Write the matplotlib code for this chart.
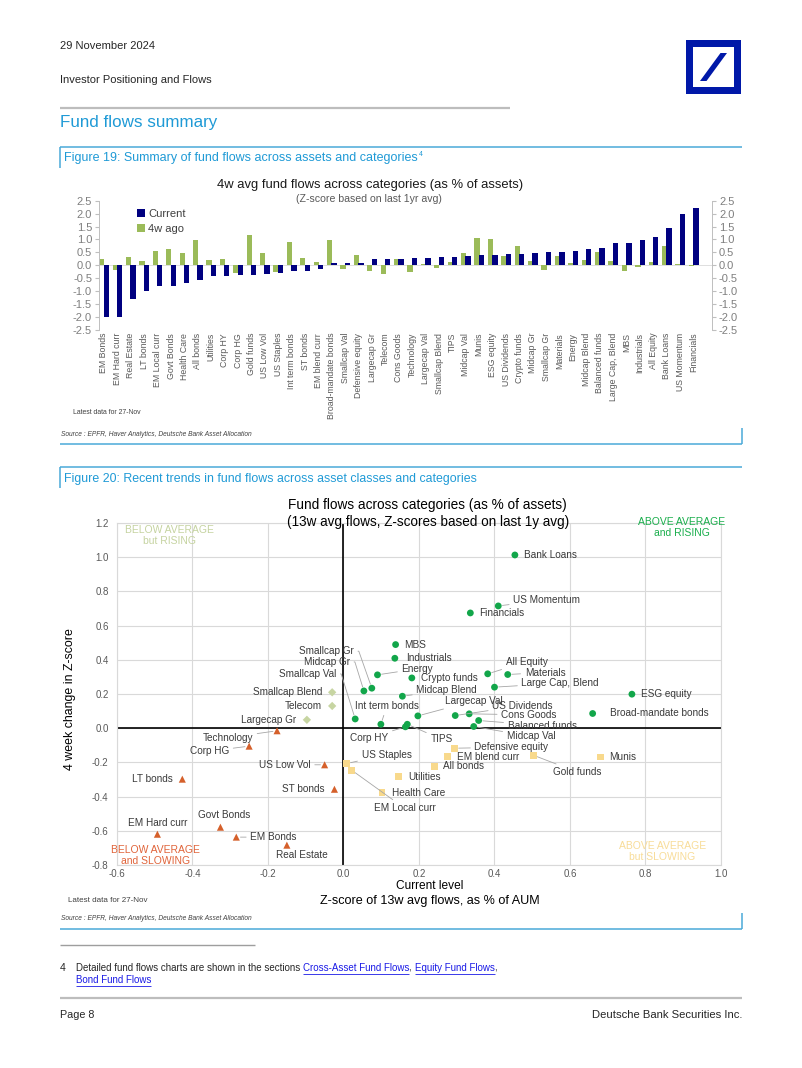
import matplotlib
matplotlib.use("Agg")
import numpy as np
import matplotlib.pyplot as plt
from matplotlib import font_manager
from matplotlib.patches import Rectangle, Polygon
from matplotlib.lines import Line2D

# ------------------------------------------------------------------ data
bar_categories = ["EM Bonds", "EM Hard curr", "Real Estate", "LT bonds", "EM Local curr",
                  "Govt Bonds", "Health Care", "All bonds", "Utilities", "Corp HY", "Corp HG",
                  "Gold funds", "US Low Vol", "US Staples", "Int term bonds", "ST bonds",
                  "EM blend curr", "Broad-mandate bonds", "Smallcap Val", "Defensive equity",
                  "Largecap Gr", "Telecom", "Cons Goods", "Technology", "Largecap Val",
                  "Smallcap Blend", "TIPS", "Midcap Val", "Munis", "ESG equity", "US Dividends",
                  "Crypto funds", "Midcap Gr", "Smallcap Gr", "Materials", "Energy",
                  "Midcap Blend", "Balanced funds", "Large Cap, Blend", "MBS", "Industrials",
                  "All Equity", "Bank Loans", "US Momentum", "Financials"]
current = [-2.0, -2.0, -1.29, -0.99, -0.81, -0.81, -0.68, -0.55, -0.43, -0.40, -0.39,
           -0.39, -0.34, -0.30, -0.23, -0.21, -0.15, 0.09, 0.09, 0.10, 0.23, 0.26,
           0.26, 0.28, 0.28, 0.32, 0.33, 0.35, 0.39, 0.41, 0.44, 0.44, 0.49, 0.53, 0.53,
           0.54, 0.63, 0.66, 0.85, 0.85, 0.99, 1.10, 1.44, 1.97, 2.20]
four_weeks_ago = [0.23, -0.19, 0.31, 0.18, 0.55, 0.62, 0.46, 0.98, 0.21, 0.23, -0.30,
                  1.16, 0.48, -0.26, 0.90, 0.27, 0.13, 0.98, -0.13, 0.41, -0.22, -0.33,
                  0.23, -0.27, 0.06, -0.09, 0.12, 0.48, 1.07, 1.00, 0.37, 0.76, 0.17, -0.17,
                  0.35, 0.08, 0.19, 0.53, 0.17, -0.23, -0.06, 0.13, 0.76, 0.06, -0.04]
bar_yticks = [-2.5, -2.0, -1.5, -1.0, -0.5, 0.0, 0.5, 1.0, 1.5, 2.0, 2.5]

# scatter: (current level z-score, 4 week change in z-score)
rising_names = ["Bank Loans", "US Momentum", "Financials", "MBS", "Industrials", "Energy",
                "Crypto funds", "All Equity", "Materials", "Large Cap, Blend", "ESG equity",
                "Broad-mandate bonds", "Midcap Blend", "Smallcap Gr", "Midcap Gr",
                "Smallcap Val", "Int term bonds", "Largecap Val", "US Dividends", "Cons Goods",
                "Balanced funds", "Midcap Val", "TIPS", "Corp HY"]
rising_x = [0.454, 0.410, 0.336, 0.138, 0.136, 0.090, 0.181, 0.382, 0.435, 0.400, 0.764,
            0.660, 0.156, 0.075, 0.054, 0.031, 0.099, 0.197, 0.296, 0.333, 0.358, 0.345,
            0.169, 0.164]
rising_y = [1.013, 0.715, 0.674, 0.489, 0.409, 0.312, 0.294, 0.318, 0.314, 0.240, 0.199,
            0.086, 0.187, 0.234, 0.218, 0.054, 0.023, 0.072, 0.074, 0.084, 0.045, 0.010,
            0.023, 0.008]

below_rising_names = ["Smallcap Blend", "Telecom", "Largecap Gr"]
below_rising_x = [-0.030, -0.030, -0.097]
below_rising_y = [0.210, 0.130, 0.049]

slowing_names = ["Technology", "Corp HG", "US Low Vol", "LT bonds", "ST bonds", "Govt Bonds",
                 "EM Hard curr", "EM Bonds", "Real Estate"]
slowing_x = [-0.176, -0.250, -0.050, -0.427, -0.024, -0.326, -0.493, -0.284, -0.150]
slowing_y = [-0.015, -0.105, -0.214, -0.298, -0.357, -0.579, -0.620, -0.637, -0.684]

above_slowing_names = ["US Staples", "EM Local curr", "Defensive equity", "EM blend curr",
                       "Gold funds", "Munis", "All bonds", "Utilities", "Health Care"]
above_slowing_x = [0.008, 0.022, 0.294, 0.275, 0.503, 0.681, 0.240, 0.145, 0.102]
above_slowing_y = [-0.207, -0.246, -0.117, -0.166, -0.158, -0.168, -0.222, -0.283, -0.378]

scatter_xticks = [-0.6, -0.4, -0.2, 0.0, 0.2, 0.4, 0.6, 0.8, 1.0]
scatter_yticks = [-0.8, -0.6, -0.4, -0.2, 0.0, 0.2, 0.4, 0.6, 0.8, 1.0, 1.2]

# label placement (pixel offsets from the point, alignment, leader line style)
label_layout = {
    "Bank Loans": (9, 0, "left", None), "US Momentum": (15, 6, "left", "s"),
    "Financials": (9, 0, "left", None), "MBS": (9, 0, "left", None),
    "Industrials": (11, 0, "left", None), "Energy": (24, 6, "left", "s"),
    "Crypto funds": (9, 0, "left", None), "All Equity": (18, 12, "left", "s"),
    "Materials": (17, 2, "left", "s"), "Large Cap, Blend": (27, 4, "left", "s"),
    "ESG equity": (9, 0, "left", None), "Broad-mandate bonds": (17, 0, "left", None),
    "Midcap Blend": (14, 6, "left", "s"), "Smallcap Gr": (-18, 37, "right", "b"),
    "Midcap Gr": (-14, 29, "right", "b"), "Smallcap Val": (-19, 45, "right", "b"),
    "Int term bonds": (-26, 18, "left", "s"), "Largecap Val": (27, 15, "left", "s"),
    "US Dividends": (37, 10, "left", "s"), "Cons Goods": (32, -1, "left", "s"),
    "Balanced funds": (29, -5, "left", "s"), "Midcap Val": (33, -10, "left", "s"),
    "TIPS": (23, -15, "left", "s"), "Corp HY": (-17, -11, "right", "s"),
    "Smallcap Blend": (-10, 0, "right", None), "Telecom": (-10, 0, "right", None),
    "Largecap Gr": (-11, 0, "right", None),
    "Technology": (-24, -7, "right", "s"), "Corp HG": (-20, -5, "right", "s"),
    "US Low Vol": (-14, 0, "right", "s"), "LT bonds": (-10, 0, "right", None),
    "ST bonds": (-10, 0, "right", None), "Govt Bonds": (4, 12, "center", None),
    "EM Hard curr": (0, 11, "center", None), "EM Bonds": (14, 0, "left", "s"),
    "Real Estate": (15, -10, "center", None),
    "US Staples": (15, 9, "left", "s"), "EM Local curr": (22, -38, "left", "s"),
    "Defensive equity": (20, 1, "left", "s"), "EM blend curr": (10, 0, "left", None),
    "Gold funds": (20, -17, "left", "s"), "Munis": (9, 0, "left", None),
    "All bonds": (9, 0, "left", None), "Utilities": (10, 0, "left", None),
    "Health Care": (10, 0, "left", None),
}

# ------------------------------------------------------------------ fonts / page
names_avail = {f.name for f in font_manager.fontManager.ttflist}
REG = ["Liberation Sans", "DejaVu Sans"]
NARROW = (["Liberation Sans Narrow"] if "Liberation Sans Narrow" in names_avail else []) + REG
plt.rcParams["font.family"] = REG

W, H = 802, 1068
fig = plt.figure(figsize=(W / 100, H / 100), dpi=100)
fig.patch.set_facecolor("white")
renderer = fig.canvas.get_renderer()

BLUE_T = "#1f9ad6"
BOX = "#4aa9d8"
DARK = "#262626"


def fx(x):
    return x / W


def fy(y):
    return 1 - y / H


def fit_text(x, y, s, target_w, family=NARROW, rotation=0, **kw):
    t = fig.text(fx(x), fy(y), s, fontsize=10, family=family, **kw)
    w = t.get_window_extent(renderer).width
    t.set_fontsize(10 * target_w / w)
    if rotation:
        t.set_rotation(rotation)
    return t


def hline(x0, x1, y, color, lw):
    fig.add_artist(Line2D([fx(x0), fx(x1)], [fy(y), fy(y)], transform=fig.transFigure,
                          color=color, lw=lw, solid_capstyle="butt"))


def vline(x, y0, y1, color, lw):
    fig.add_artist(Line2D([fx(x), fx(x)], [fy(y0), fy(y1)], transform=fig.transFigure,
                          color=color, lw=lw, solid_capstyle="butt"))


# header
fit_text(60, 46, "29 November 2024", 95, color=DARK, va="center")
fit_text(60, 80, "Investor Positioning and Flows", 152, color=DARK, va="center")
hline(60, 510, 108, "#bdbdbd", 1.6)
fit_text(60, 123, "Fund flows summary", 157, color=BLUE_T, va="center")

# DB logo
fig.add_artist(Rectangle((fx(686), fy(94)), 55 / W, 54 / H, transform=fig.transFigure,
                         facecolor="#0018a8", edgecolor="none"))
fig.add_artist(Rectangle((fx(693), fy(87)), 41 / W, 40 / H, transform=fig.transFigure,
                         facecolor="white", edgecolor="none"))
slash = [(700, 81), (706.5, 81), (727, 53), (720.5, 53)]
fig.add_artist(Polygon([(fx(a), fy(b)) for a, b in slash], closed=True,
                       transform=fig.transFigure, facecolor="#0018a8", edgecolor="none"))

# Figure 19 frame
hline(60, 742, 147, BOX, 1.1)
vline(60, 147, 168, BOX, 1.1)
fit_text(64, 158, "Figure 19: Summary of fund flows across assets and categories", 354,
         color=BLUE_T, va="center")
fig.text(fx(419), fy(154), "4", fontsize=5, color=BLUE_T, va="center", family=NARROW)
hline(60, 742, 444, BOX, 1.1)
vline(742, 428, 444, BOX, 1.1)

fit_text(370, 185, "4w avg fund flows across categories (as % of assets)", 307,
         color="#1a1a1a", ha="center", va="center")
fit_text(369, 199, "(Z-score based on last 1yr avg)", 146, family=REG,
         color="#595959", ha="center", va="center")
fit_text(73, 413, "Latest data for 27-Nov", 69, family=REG, color="#404040", va="center")
fit_text(61, 435, "Source : EPFR, Haver Analytics, Deutsche Bank Asset Allocation", 192,
         family=REG, color="#404040", va="center", style="italic")

# ------------------------------------------------------------------ bar chart
axb = fig.add_axes([fx(99), fy(330), 613 / W, 129.3 / H])
xpos = np.arange(len(bar_categories))
axb.bar(xpos - 0.165, four_weeks_ago, 0.40, color="#9bbb59", label="4w ago", zorder=2)
axb.bar(xpos + 0.165, current, 0.40, color="#000080", label="Current", zorder=3)
axb.axhline(0, color="#d9d9d9", lw=0.6, zorder=1)
axb.set_xlim(-0.373, 45.37)
axb.set_ylim(-2.5, 2.5)
axb.set_yticks(bar_yticks)
axb.set_yticklabels([f"{v:.1f}" for v in bar_yticks])
axb.set_xticks(xpos)
axb.set_xticklabels(bar_categories, rotation=90, fontsize=6.3, color="#595959")
axb.tick_params(axis="x", length=0, pad=2)
axb.tick_params(axis="y", left=True, right=True, labelleft=True, labelright=True,
                length=3, color="#bfbfbf", labelsize=8, labelcolor="#7f7f7f", pad=2)
for s in ["top", "bottom"]:
    axb.spines[s].set_visible(False)
for s in ["left", "right"]:
    axb.spines[s].set_color("#bfbfbf")
    axb.spines[s].set_linewidth(0.7)
handles, labels = axb.get_legend_handles_labels()
leg = axb.legend(handles[::-1], labels[::-1], loc="upper left", bbox_to_anchor=(0.055, 0.97),
                 frameon=False, fontsize=8, handlelength=0.7, handleheight=0.7,
                 handletextpad=0.3, labelspacing=0.45, borderaxespad=0)
for t in leg.get_texts():
    t.set_color("#404040")

# ------------------------------------------------------------------ Figure 20 frame
hline(60, 742, 467, BOX, 1.1)
vline(60, 467, 488, BOX, 1.1)
fit_text(64, 479, "Figure 20: Recent trends in fund flows across asset classes and categories",
         413, color=BLUE_T, va="center")
hline(60, 742, 929, BOX, 1.1)
vline(742, 913, 929, BOX, 1.1)

fit_text(427.5, 505, "Fund flows across categories (as % of assets)", 279,
         color="#000000", ha="center", va="center")
fit_text(428, 522, "(13w avg flows, Z-scores based on last 1y avg)", 282,
         color="#000000", ha="center", va="center")
fit_text(430, 886, "Current level", 68, family=REG, color="#000000", ha="center", va="center")
fit_text(430, 901, "Z-score of 13w avg flows, as % of AUM", 220, family=REG,
         color="#000000", ha="center", va="center")
yl = fit_text(70, 699, "4 week change in Z-score", 142, family=REG, color="#000000",
              ha="center", va="center", rotation=90)
fit_text(68, 900, "Latest data for 27-Nov", 80, family=REG, color="#404040", va="center")
fit_text(61, 918, "Source : EPFR, Haver Analytics, Deutsche Bank Asset Allocation", 192,
         family=REG, color="#404040", va="center", style="italic")

# ------------------------------------------------------------------ scatter
axs = fig.add_axes([fx(117), fy(865), 604 / W, 342 / H])
axs.set_xlim(-0.6, 1.0)
axs.set_ylim(-0.8, 1.2)
axs.set_xticks(scatter_xticks)
axs.set_xticklabels([f"{v:.1f}" for v in scatter_xticks])
axs.set_yticks(scatter_yticks)
axs.set_yticklabels([f"{v:.1f}" for v in scatter_yticks])
axs.grid(True, color="#d9d9d9", lw=0.8)
axs.set_axisbelow(True)
for s in axs.spines.values():
    s.set_color("#d9d9d9")
    s.set_linewidth(0.8)
axs.tick_params(length=0, labelsize=7, labelcolor="#595959")
axs.tick_params(axis="y", pad=6)
axs.tick_params(axis="x", pad=3)
axs.axvline(0, color="black", lw=1.2, zorder=1)
axs.axhline(0, color="black", lw=1.2, zorder=1)

groups = [
    (rising_names, rising_x, rising_y, "o", "#12a64a", 24),
    (below_rising_names, below_rising_x, below_rising_y, "D", "#c7d5a2", 18),
    (slowing_names, slowing_x, slowing_y, "^", "#d5602b", 26),
    (above_slowing_names, above_slowing_x, above_slowing_y, "s", "#f8d98c", 24),
]
for names, xs, ys, mk, col, sz in groups:
    axs.scatter(xs, ys, marker=mk, s=sz, color=col, edgecolors="none", zorder=4)
    for n, x, y in zip(names, xs, ys):
        dx, dy, ha, line = label_layout[n]
        ap = None
        if line == "s":
            ap = dict(arrowstyle="-", color="#a6a6a6", lw=0.6, shrinkA=1, shrinkB=3)
        elif line == "b":
            ap = dict(arrowstyle="-", color="#a6a6a6", lw=0.6, shrinkA=1, shrinkB=3,
                      relpos=(1.0, 0.5),
                      connectionstyle="arc,angleA=0,angleB=90,armA=5,armB=0,rad=0")
        axs.annotate(n, (x, y), xytext=(dx, dy), textcoords="offset pixels", ha=ha,
                     va="center", fontsize=7.2, color="#3a3a3a", arrowprops=ap, zorder=5)

quad = [
    (-0.46, 1.126, "BELOW AVERAGE\nbut RISING", "#c5d3a0"),
    (0.896, 1.175, "ABOVE AVERAGE\nand RISING", "#1aae4c"),
    (-0.497, -0.743, "BELOW AVERAGE\nand SLOWING", "#e0643a"),
    (0.845, -0.719, "ABOVE AVERAGE\nbut SLOWING", "#f8dc98"),
]
for x, y, s, c in quad:
    axs.text(x, y, s, ha="center", va="center", fontsize=7.5, color=c,
             linespacing=1.1, zorder=6)

# ------------------------------------------------------------------ footnote / footer
hline(60, 255, 945, "#9e9e9e", 1.0)
fig.text(fx(60), fy(968), "4", fontsize=7.5, color=DARK, va="center", family=NARROW)


def run_text(x, y, pieces, size):
    for s, link in pieces:
        t = fig.text(fx(x), fy(y), s, fontsize=size, family=NARROW, va="center",
                     color="#1a1ae6" if link else DARK)
        w = t.get_window_extent(renderer).width
        if link:
            hline(x, x + w, y + 6, "#1a1ae6", 0.6)
        x += w


probe = fig.text(0, 0, "Detailed fund flows charts are shown in the sections ", fontsize=10,
                 family=NARROW)
fsize = 10 * 229 / probe.get_window_extent(renderer).width
probe.remove()
run_text(76, 968, [("Detailed fund flows charts are shown in the sections ", False),
                   ("Cross-Asset Fund Flows", True), (", ", False),
                   ("Equity Fund Flows", True), (",", False)], fsize)
run_text(76, 980, [("Bond Fund Flows", True)], fsize)

hline(60, 742, 998, "#bdbdbd", 1.6)
fit_text(60, 1015, "Page 8", 34, color=DARK, va="center")
fit_text(742, 1015, "Deutsche Bank Securities Inc.", 150, color=DARK, va="center", ha="right")

fig.savefig("out.png", dpi=100, facecolor="white")
